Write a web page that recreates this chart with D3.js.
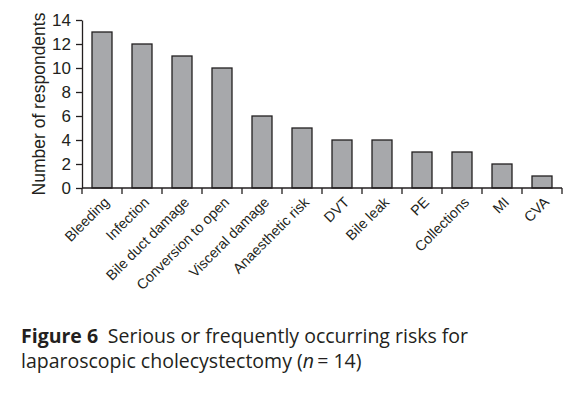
<!DOCTYPE html>
<html>
<head>
<meta charset="utf-8">
<script src="https://cdn.jsdelivr.net/npm/d3@7"></script>
<style>
body { margin: 0; background: #fff; }
</style>
</head>
<body>
<div id="chart"></div>
<script>
var risks = ["Bleeding", "Infection", "Bile duct damage", "Conversion to open", "Visceral damage",
    "Anaesthetic risk", "DVT", "Bile leak", "PE", "Collections", "MI", "CVA"];
var respondents = [13, 12, 11, 10, 6, 5, 4, 4, 3, 3, 2, 1];
var yTicks = [0, 2, 4, 6, 8, 10, 12, 14];

var data = risks.map(function (r, i) { return [r, respondents[i]]; });

var margin = { top: 20, left: 82 },
    width = 480,
    height = 168;

var svg = d3.select("#chart")
    .append("svg")
    .attr("width", 581)
    .attr("height", 397);

var g = svg.append("g")
    .attr("transform", "translate(" + margin.left + "," + margin.top + ")");

var x = d3.scaleBand()
    .domain(risks)
    .range([0, width])
    .paddingInner(0.5)
    .paddingOuter(0.25);

var y = d3.scaleLinear()
    .domain([0, 14])
    .range([height, 0]);

// bars
g.selectAll("rect.bar")
    .data(data)
    .enter()
    .append("rect")
    .attr("class", "bar")
    .attr("x", function (d) { return x(d[0]); })
    .attr("y", function (d) { return y(d[1]); })
    .attr("width", x.bandwidth())
    .attr("height", function (d) { return y(0) - y(d[1]); })
    .attr("fill", "#a7a8ab")
    .attr("stroke", "#231f20")
    .attr("stroke-width", 1.3);

// y axis
var yAxis = g.append("g")
    .call(d3.axisLeft(y).tickValues(yTicks).tickSize(6).tickSizeOuter(0).tickPadding(5));
yAxis.select(".domain").attr("stroke", "#231f20").attr("stroke-width", 1.3);
yAxis.selectAll(".tick line").attr("stroke", "#231f20").attr("stroke-width", 1.3);
yAxis.selectAll("text")
    .attr("font-family", "Liberation Sans, Arial, sans-serif")
    .attr("font-size", 17)
    .attr("fill", "#231f20");

// x axis: ticks at category boundaries
var xAxis = g.append("g")
    .attr("transform", "translate(0," + height + ")");
xAxis.append("line")
    .attr("x1", 0).attr("x2", width)
    .attr("stroke", "#231f20").attr("stroke-width", 1.3);
var step = x.step();
xAxis.selectAll("line.tk")
    .data(d3.range(risks.length + 1))
    .enter()
    .append("line")
    .attr("class", "tk")
    .attr("x1", function (i) { return i * step; })
    .attr("x2", function (i) { return i * step; })
    .attr("y1", 0).attr("y2", 6)
    .attr("stroke", "#231f20").attr("stroke-width", 1.3);

xAxis.selectAll("text.lbl")
    .data(risks)
    .enter()
    .append("text")
    .attr("class", "lbl")
    .attr("transform", function (d) {
        return "translate(" + (x(d) + x.bandwidth() / 2 + 1) + ",8) rotate(-45)";
    })
    .attr("text-anchor", "end")
    .attr("dy", "0.7em")
    .attr("font-family", "Liberation Sans, Arial, sans-serif")
    .attr("font-size", 14.3)
    .attr("fill", "#231f20")
    .text(function (d) { return d; });

// y label
svg.append("text")
    .attr("transform", "translate(45," + (margin.top + height / 2) + ") rotate(-90)")
    .attr("text-anchor", "middle")
    .attr("font-family", "Liberation Sans, Arial, sans-serif")
    .attr("font-size", 17.5)
    .attr("fill", "#231f20")
    .text("Number of respondents");

// caption
var cap = svg.append("text")
    .attr("x", 21)
    .attr("y", 343)
    .attr("font-family", "Open Sans, sans-serif")
    .attr("font-size", 19.5)
    .attr("fill", "#231f20");
cap.append("tspan").attr("font-weight", "bold").text("Figure 6");
cap.append("tspan").text("\u2002Serious or frequently occurring risks for");
var cap2 = svg.append("text")
    .attr("x", 21)
    .attr("y", 368)
    .attr("font-family", "Open Sans, sans-serif")
    .attr("font-size", 19.5)
    .attr("fill", "#231f20");
cap2.append("tspan").text("laparoscopic cholecystectomy (");
cap2.append("tspan").attr("font-style", "italic").text("n");
cap2.append("tspan").text("\u2009= 14)");
</script>
</body>
</html>
